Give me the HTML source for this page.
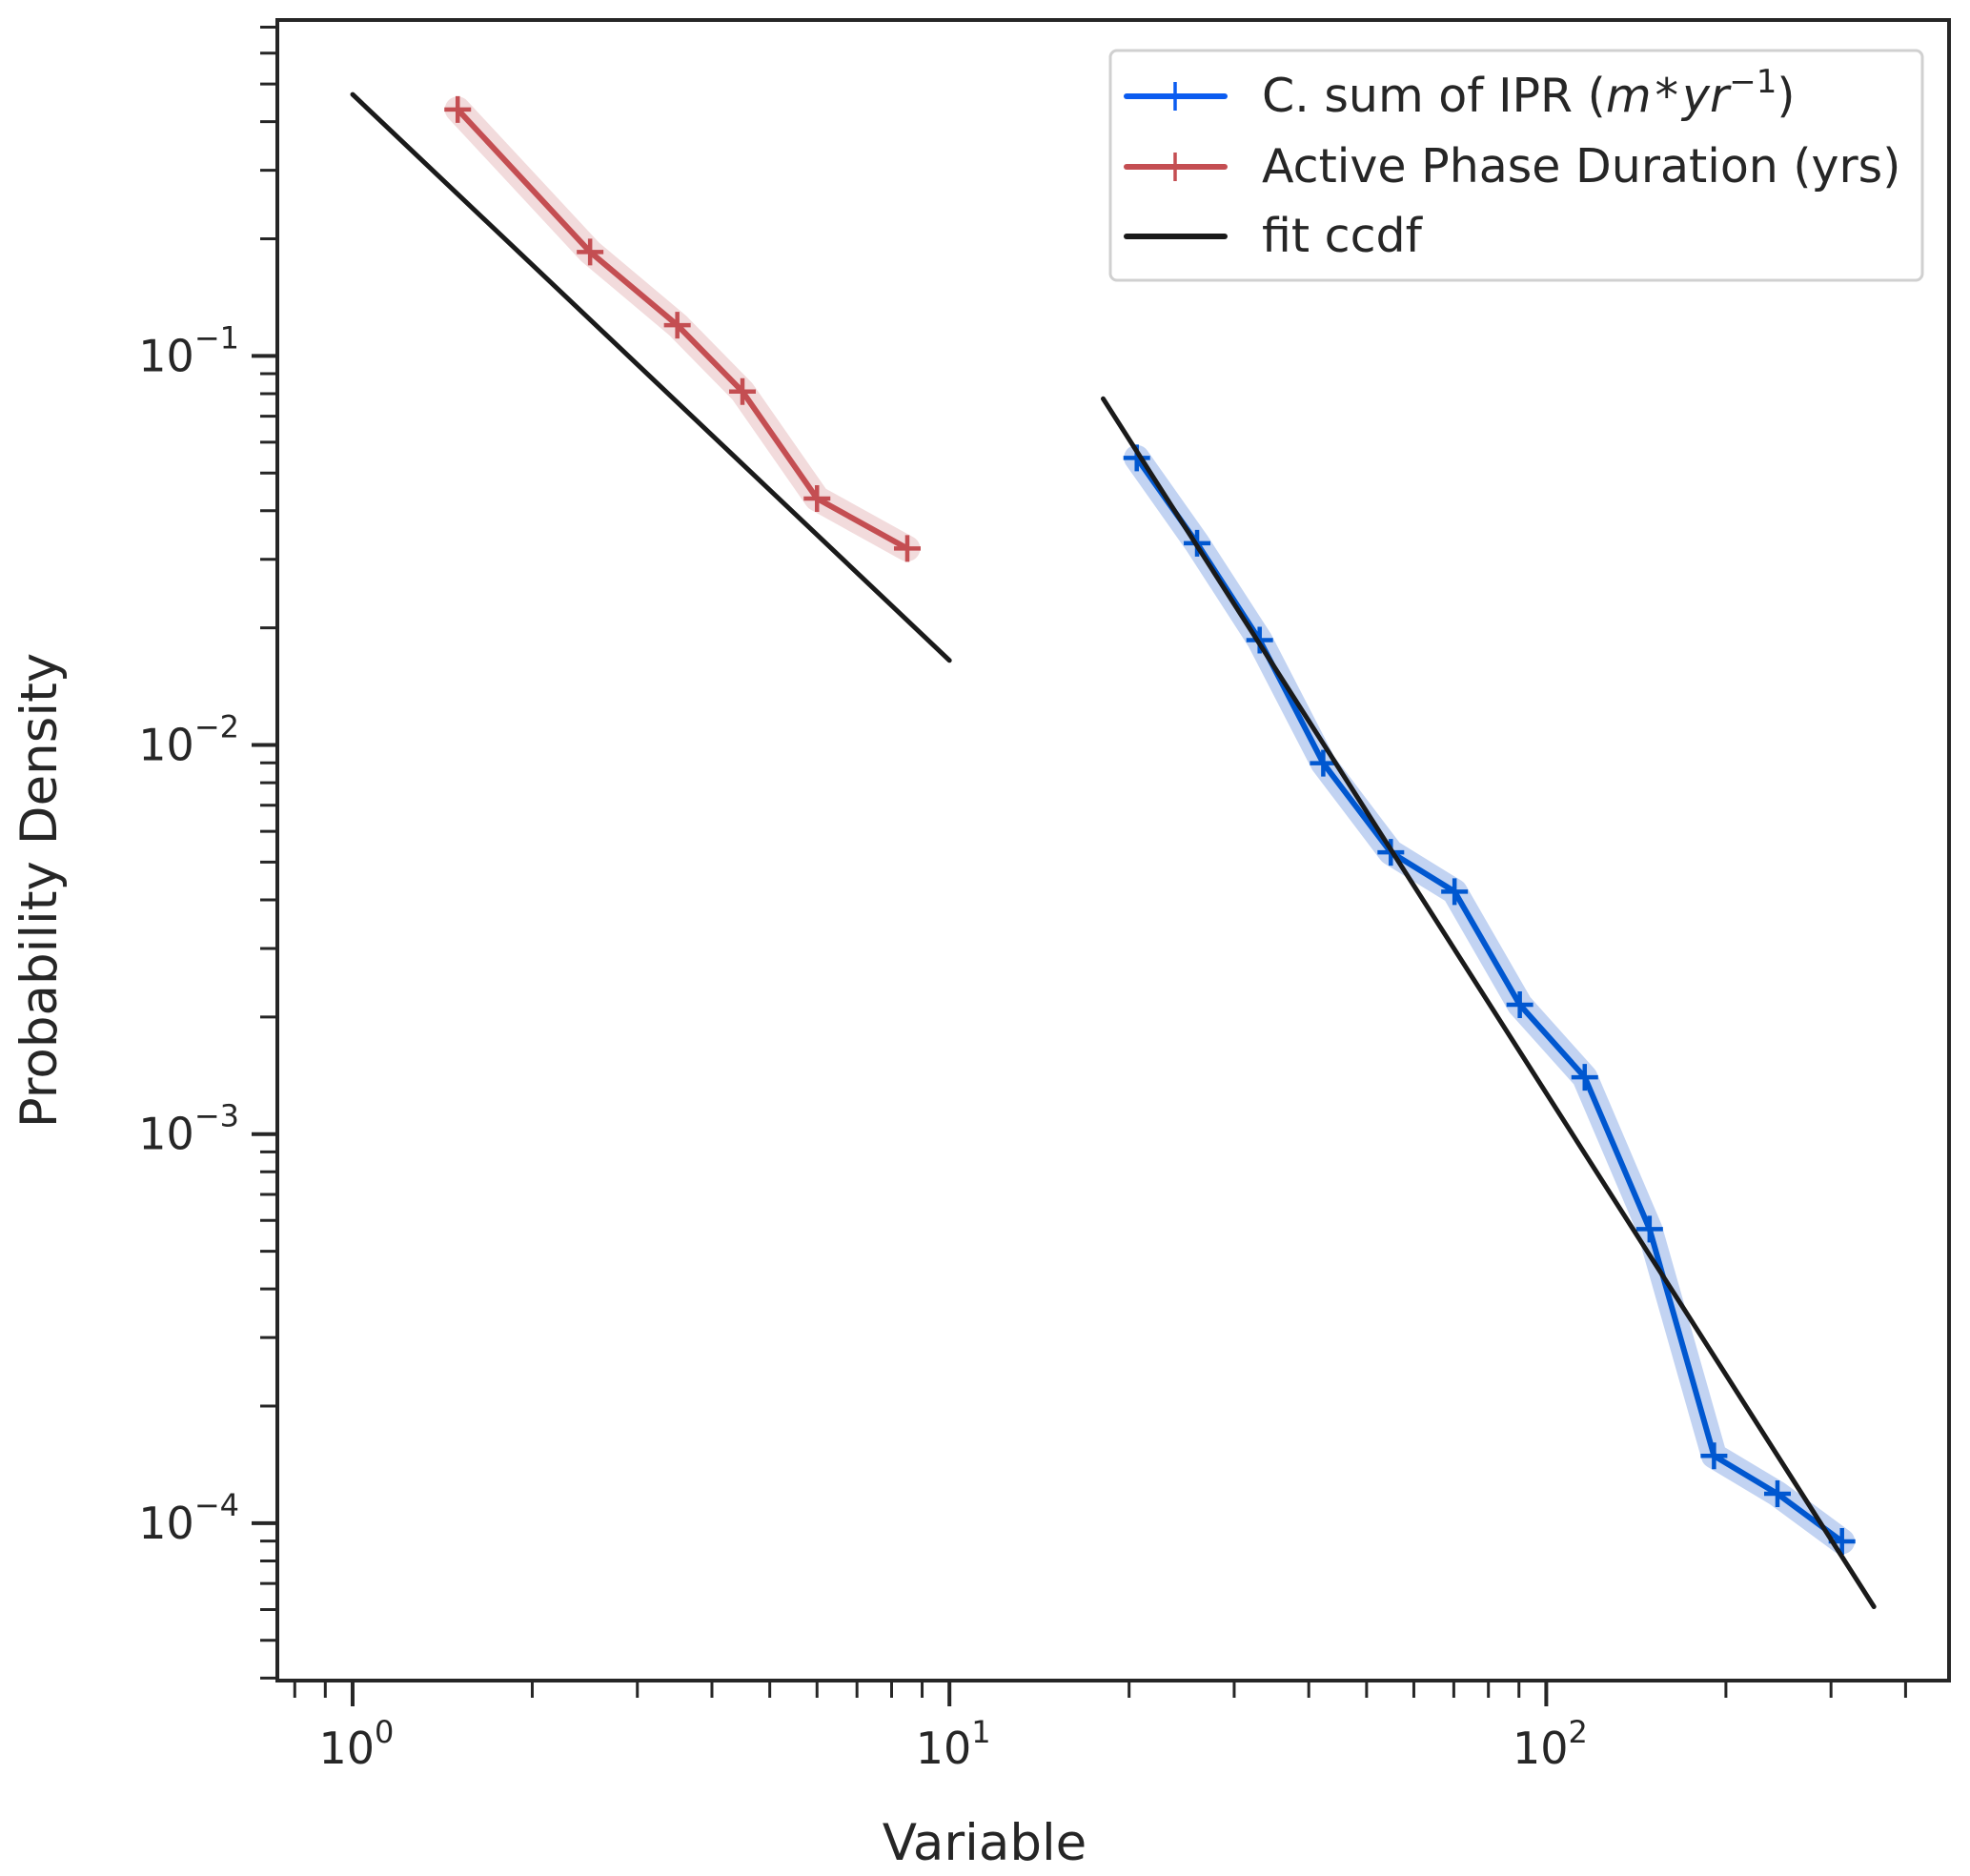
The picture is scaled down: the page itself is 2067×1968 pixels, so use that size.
<!DOCTYPE html>
<html><head><meta charset="utf-8"><style>
html,body{margin:0;padding:0;background:#fff;}
svg{display:block;font-family:"DejaVu Sans","Liberation Sans",sans-serif;}
</style></head><body>
<svg id="chart" width="2067" height="1968" viewBox="0 0 2067 1968" xmlns="http://www.w3.org/2000/svg">
<rect x="0" y="0" width="2067" height="1968" fill="#fff"/>
<g id="plot"></g>
<g id="axes"></g>
<g id="legend"></g>
<text x="1033" y="1951" font-size="53" fill="#262626" text-anchor="middle">Variable</text>
<text transform="translate(59,934) rotate(-90)" font-size="53" fill="#262626" text-anchor="middle">Probability Density</text>
<text x="1324" y="117" font-size="49" fill="#262626">C. sum of IPR (<tspan font-style="italic">m</tspan><tspan dx="4">*</tspan><tspan dx="4" font-style="italic">yr</tspan><tspan dy="-20" font-size="34">−1</tspan><tspan dy="20">)</tspan></text>
<text x="1324" y="191" font-size="49" fill="#262626">Active Phase Duration (yrs)</text>
<text x="1324" y="264" font-size="49" fill="#262626">fit ccdf</text>
</svg>
<script>
const ipr_x=[20.6,26,33.1,42.3,54.9,70.2,90.3,116,149,191,244,313];
const ipr_y=[0.0547,0.033,0.0186,0.00898,0.0053,0.0042,0.00215,0.0014,0.00057,0.000149,0.000119,0.0000898];
const apd_x=[1.5,2.5,3.5,4.5,6,8.5];
const apd_y=[0.43,0.185,0.12,0.081,0.043,0.032];
const fit1_x=[1,10];
const fit1_y=[0.47,0.0165];
const fit2_x=[18.1,354];
const fit2_y=[0.0776,0.000061];
const xTickExps=[0,1,2];
const yTickExps=[-1,-2,-3,-4];

const L=291,R=2045,T=21,B=1763;
const xMin=Math.log10(0.748),xMax=Math.log10(473);
const yMin=Math.log10(3.94e-5),yMax=Math.log10(0.73);
function X(v){return L+(Math.log10(v)-xMin)/(xMax-xMin)*(R-L);}
function Y(v){return B-(Math.log10(v)-yMin)/(yMax-yMin)*(B-T);}
const NS="http://www.w3.org/2000/svg";
function mk(tag,attrs,parent){const e=document.createElementNS(NS,tag);for(const k in attrs)e.setAttribute(k,attrs[k]);parent.appendChild(e);return e;}
const plot=document.getElementById('plot'),axes=document.getElementById('axes'),leg=document.getElementById('legend');
function pts(xs,ys){return xs.map((x,i)=>X(x).toFixed(1)+','+Y(ys[i]).toFixed(1)).join(' ');}

function series(xs,ys,color,band,name){
  const b=mk('polyline',{points:pts(xs,ys),fill:'none',stroke:band,'stroke-width':27,'stroke-linejoin':'round','stroke-linecap':'round'},plot);
  
  
  const l=mk('polyline',{points:pts(xs,ys),fill:'none',stroke:color,'stroke-width':6,'stroke-linejoin':'round'},plot);
  
  
  xs.forEach((x,i)=>{const cx=X(x),cy=Y(ys[i]);
    const m=mk('path',{d:`M${cx-14},${cy}H${cx+14}M${cx},${cy-14}V${cy+14}`,stroke:color,'stroke-width':4.5,fill:'none'},plot);
    
    
  });
}
series(apd_x,apd_y,'#c44e52','#f2dbdc','active-phase');
series(ipr_x,ipr_y,'#0057d0','#c2d3f2','ipr-sum');
[[fit1_x,fit1_y,'fit-line-apd'],[fit2_x,fit2_y,'fit-line-ipr']].forEach(f=>{
  const l=mk('polyline',{points:pts(f[0],f[1]),fill:'none',stroke:'#1a1a1a','stroke-width':5,'stroke-linecap':'round'},plot);
  
  
});

const fr=mk('rect',{x:L,y:T,width:R-L,height:B-T,fill:'none',stroke:'#262626','stroke-width':4},axes);


for(let e=-1;e<=2;e++){for(let m=1;m<10;m++){const v=m*Math.pow(10,e);const x=X(v);if(x<L||x>R)continue;
  const major=m===1;
  const t=mk('line',{x1:x,x2:x,y1:B,y2:B+(major?27:18),stroke:'#262626','stroke-width':major?4:3},axes);
  
  }}
xTickExps.forEach(e=>{const x=X(Math.pow(10,e));
  const t=mk('text',{x:x+4,y:1850,'font-size':46,fill:'#262626','text-anchor':'middle'},axes);
  
  
  t.textContent='10';
  const s=mk('tspan',{dy:-22,'font-size':32},t);s.textContent=String(e);});
for(let e=-5;e<=0;e++){for(let m=1;m<10;m++){const v=m*Math.pow(10,e);const y=Y(v);if(y<T-1||y>B+1)continue;
  const major=m===1;
  const t=mk('line',{x1:L,x2:L-(major?27:18),y1:y,y2:y,stroke:'#262626','stroke-width':major?4:3},axes);
  
  }}
yTickExps.forEach(e=>{const y=Y(Math.pow(10,e));
  const t=mk('text',{x:251,y:y+16,'font-size':46,fill:'#262626','text-anchor':'end'},axes);
  
  
  t.textContent='10';
  const s=mk('tspan',{dy:-24,'font-size':32},t);s.textContent='\u2212'+String(-e);});

const lb=mk('rect',{x:1165,y:53,width:852,height:241,rx:7,fill:'none',stroke:'#d0d0d0','stroke-width':3},leg);


const entries=[['#0b5cf0',true,'legend-entry-ipr'],['#c44e52',true,'legend-entry-apd'],['#1a1a1a',false,'legend-entry-fit']];
const ly=[101,175,248];
entries.forEach((en,i)=>{
  const g=mk('g',{},leg);
  
  
  mk('line',{x1:1182,x2:1285,y1:ly[i],y2:ly[i],stroke:en[0],'stroke-width':6,'stroke-linecap':'round'},g);
  if(en[1])mk('line',{x1:1233,x2:1233,y1:ly[i]-15,y2:ly[i]+15,stroke:en[0],'stroke-width':3.5},g);
});
</script>
</body></html>
